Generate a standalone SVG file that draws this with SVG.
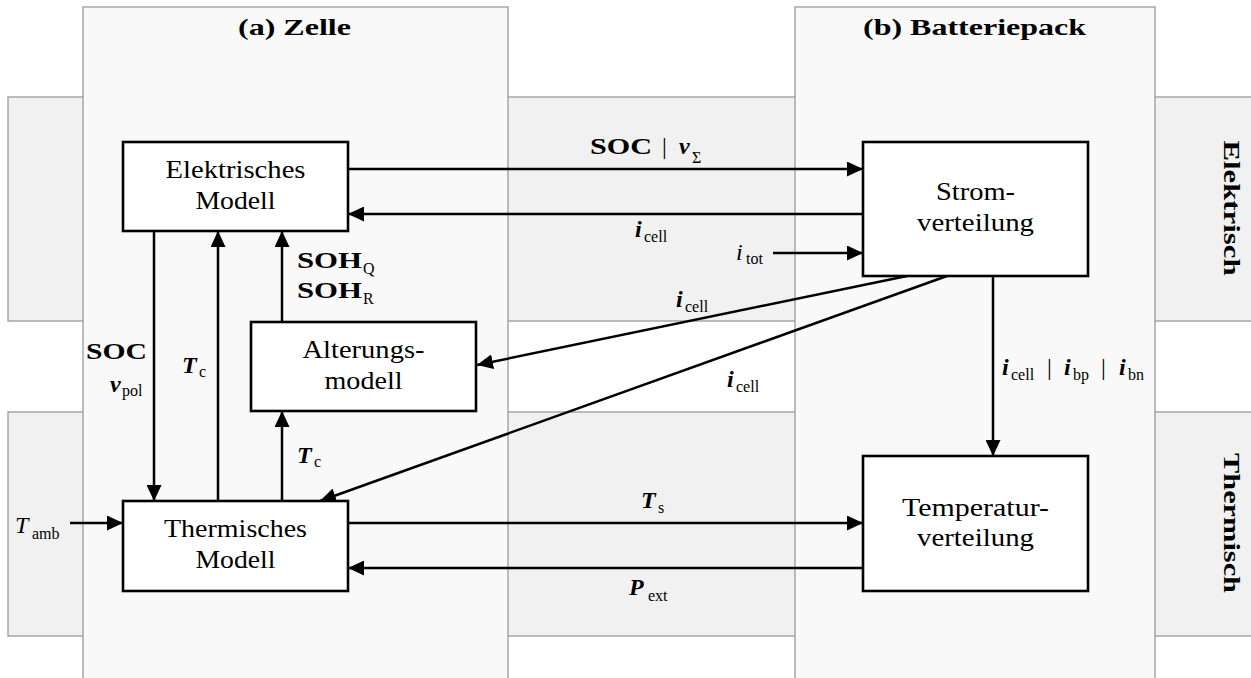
<svg xmlns="http://www.w3.org/2000/svg" width="1251" height="678" viewBox="0 0 1251 678">
<style>
.band{fill:#f1f1f1;stroke:#9a9a9a;stroke-width:1.3}
.col{fill:#f9f9f9;stroke:#9a9a9a;stroke-width:1.3}
.node{fill:#fff;stroke:#000;stroke-width:2.6}
.t{font-family:"Liberation Serif","DejaVu Serif","Times New Roman",serif;fill:#000}
.lbl{font-size:26px;text-anchor:middle}
.ttl{font-size:24px;font-weight:bold;text-anchor:middle}
.m{font-size:24px}
.b{font-weight:bold}
.v{font-weight:bold;font-style:italic}
.it{font-style:italic}
.s{font-size:16px;font-weight:normal;font-style:normal}
.e{stroke:#000;stroke-width:2.5;fill:none}
</style>
<defs>
<marker id="ah" markerUnits="userSpaceOnUse" markerWidth="16" markerHeight="15" refX="16" refY="7.5" orient="auto">
<path d="M0,0 L16,7.5 L0,15 z" fill="#000"/>
</marker>
</defs>
<g id="background">
<rect class="band" x="8" y="97" width="1260" height="224"/>
<rect class="band" x="8" y="412" width="1260" height="224"/>
<rect class="col" x="83" y="7" width="425" height="700"/>
<rect class="col" x="795" y="7" width="360" height="700"/>
<text class="t ttl" x="294.5" y="35" textLength="113" lengthAdjust="spacingAndGlyphs">(a) Zelle</text>
<text class="t ttl" x="974.5" y="35" textLength="223" lengthAdjust="spacingAndGlyphs">(b) Batteriepack</text>
<text class="t ttl" transform="translate(1224,208) rotate(90)" textLength="135" lengthAdjust="spacingAndGlyphs">Elektrisch</text>
<text class="t ttl" transform="translate(1224,523) rotate(90)" textLength="140" lengthAdjust="spacingAndGlyphs">Thermisch</text>
</g>
<g id="connectors">
<line class="e" x1="348" y1="169" x2="863" y2="169" marker-end="url(#ah)"/>
<line class="e" x1="863" y1="214" x2="348" y2="214" marker-end="url(#ah)"/>
<line class="e" x1="773" y1="253" x2="863" y2="253" marker-end="url(#ah)"/>
<line class="e" x1="907" y1="276" x2="477" y2="365" marker-end="url(#ah)"/>
<line class="e" x1="947" y1="276" x2="320" y2="501" marker-end="url(#ah)"/>
<line class="e" x1="993" y1="276" x2="993" y2="456" marker-end="url(#ah)"/>
<line class="e" x1="348" y1="523" x2="863" y2="523" marker-end="url(#ah)"/>
<line class="e" x1="863" y1="568" x2="348" y2="568" marker-end="url(#ah)"/>
<line class="e" x1="70" y1="523" x2="123" y2="523" marker-end="url(#ah)"/>
<line class="e" x1="154" y1="231" x2="154" y2="501" marker-end="url(#ah)"/>
<line class="e" x1="218" y1="501" x2="218" y2="231" marker-end="url(#ah)"/>
<line class="e" x1="282" y1="322" x2="282" y2="231" marker-end="url(#ah)"/>
<line class="e" x1="282" y1="501" x2="282" y2="411" marker-end="url(#ah)"/>
</g>
<g id="edge-labels" class="t m">
<text x="590" y="154"><tspan class="b" textLength="62" lengthAdjust="spacingAndGlyphs">SOC</tspan><tspan x="662">|</tspan><tspan class="v" x="679">v</tspan><tspan class="s" x="692" y="163">Σ</tspan></text>
<text x="635" y="237"><tspan class="v">i</tspan><tspan class="s" x="644" y="242">cell</tspan></text>
<text x="736" y="260"><tspan class="it">i</tspan><tspan class="s" x="746" y="264">tot</tspan></text>
<text x="676" y="307"><tspan class="v">i</tspan><tspan class="s" x="685" y="312">cell</tspan></text>
<text x="727" y="387"><tspan class="v">i</tspan><tspan class="s" x="736" y="392">cell</tspan></text>
<text x="1002" y="375"><tspan class="v">i</tspan><tspan class="s" x="1011" y="380">cell</tspan><tspan x="1047" y="375">|</tspan><tspan class="v" x="1064">i</tspan><tspan class="s" x="1073" y="380">bp</tspan><tspan x="1101" y="375">|</tspan><tspan class="v" x="1119">i</tspan><tspan class="s" x="1128" y="380">bn</tspan></text>
<text x="297" y="268"><tspan class="b" textLength="65" lengthAdjust="spacingAndGlyphs">SOH</tspan><tspan class="s" x="363" y="274">Q</tspan></text>
<text x="297" y="298"><tspan class="b" textLength="65" lengthAdjust="spacingAndGlyphs">SOH</tspan><tspan class="s" x="363" y="304">R</tspan></text>
<text x="86" y="359" class="b" textLength="61" lengthAdjust="spacingAndGlyphs">SOC</text>
<text x="110" y="392"><tspan class="v">v</tspan><tspan class="s" x="122" y="396">pol</tspan></text>
<text x="182" y="373"><tspan class="v">T</tspan><tspan class="s" x="199" y="377">c</tspan></text>
<text x="297" y="463"><tspan class="v">T</tspan><tspan class="s" x="314" y="467">c</tspan></text>
<text x="15" y="533"><tspan class="it">T</tspan><tspan class="s" x="32" y="539">amb</tspan></text>
<text x="641" y="508"><tspan class="v">T</tspan><tspan class="s" x="658" y="513">s</tspan></text>
<text x="629" y="595"><tspan class="v">P</tspan><tspan class="s" x="648" y="601">ext</tspan></text>
</g>
<g id="node-elektrisches-modell">
<rect class="node" x="123" y="142" width="225" height="89"/>
<text class="t lbl" x="235.5" y="178" textLength="140" lengthAdjust="spacingAndGlyphs">Elektrisches</text>
<text class="t lbl" x="235.5" y="209" textLength="80" lengthAdjust="spacingAndGlyphs">Modell</text>
</g>
<g id="node-alterungsmodell">
<rect class="node" x="251" y="322" width="225" height="89"/>
<text class="t lbl" x="363.5" y="358" textLength="122" lengthAdjust="spacingAndGlyphs">Alterungs-</text>
<text class="t lbl" x="363.5" y="389" textLength="78" lengthAdjust="spacingAndGlyphs">modell</text>
</g>
<g id="node-thermisches-modell">
<rect class="node" x="123" y="501" width="225" height="90"/>
<text class="t lbl" x="235.5" y="537" textLength="143" lengthAdjust="spacingAndGlyphs">Thermisches</text>
<text class="t lbl" x="235.5" y="568" textLength="80" lengthAdjust="spacingAndGlyphs">Modell</text>
</g>
<g id="node-stromverteilung">
<rect class="node" x="863" y="142" width="225" height="134"/>
<text class="t lbl" x="975.5" y="200" textLength="79" lengthAdjust="spacingAndGlyphs">Strom-</text>
<text class="t lbl" x="975.5" y="231" textLength="117" lengthAdjust="spacingAndGlyphs">verteilung</text>
</g>
<g id="node-temperaturverteilung">
<rect class="node" x="863" y="456" width="225" height="135"/>
<text class="t lbl" x="975.5" y="516" textLength="147" lengthAdjust="spacingAndGlyphs">Temperatur-</text>
<text class="t lbl" x="975.5" y="546" textLength="117" lengthAdjust="spacingAndGlyphs">verteilung</text>
</g>
</svg>
